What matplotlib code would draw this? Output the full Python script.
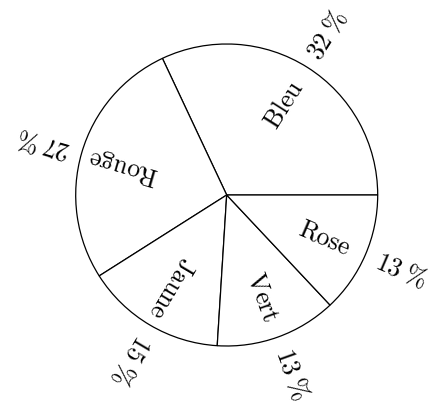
import numpy as np
import matplotlib
matplotlib.use("Agg")
import matplotlib.pyplot as plt

# données du camembert
labels = ["Bleu", "Rouge", "Jaune", "Vert", "Rose"]
values = [32, 27, 15, 13, 13]

plt.rcParams["mathtext.fontset"] = "cm"

W, H = 435, 410
cx, cy, R = 226.7, H - 196, 151

fig = plt.figure(figsize=(W / 100, H / 100), dpi=100)
ax = fig.add_axes([0, 0, 1, 1])
ax.set_xlim(0, W); ax.set_ylim(0, H)
ax.set_aspect("equal")
ax.axis("off")

ax.pie(values, startangle=0, counterclock=True, radius=R, center=(cx, cy),
       colors=["white"] * len(values),
       wedgeprops=dict(edgecolor="black", linewidth=0.9))
ax.set_xlim(0, W); ax.set_ylim(0, H)

# textes tournés selon l'angle médian de chaque part
cum = np.cumsum([0] + values)
for i, (lab, v) in enumerate(zip(labels, values)):
    a = (cum[i] + cum[i + 1]) / 2 / sum(values) * 360
    t = np.deg2rad(a)
    ax.text(cx + 0.71 * R * np.cos(t), cy + 0.71 * R * np.sin(t), r"$\mathrm{%s}$" % lab,
            rotation=a, rotation_mode="anchor", ha="center", va="center", fontsize=18.5)
    ax.text(cx + 1.26 * R * np.cos(t), cy + 1.26 * R * np.sin(t), r"$%d\;\%%$" % v,
            rotation=a, rotation_mode="anchor", ha="center", va="center", fontsize=18.5)

fig.savefig("out.png", dpi=100)
